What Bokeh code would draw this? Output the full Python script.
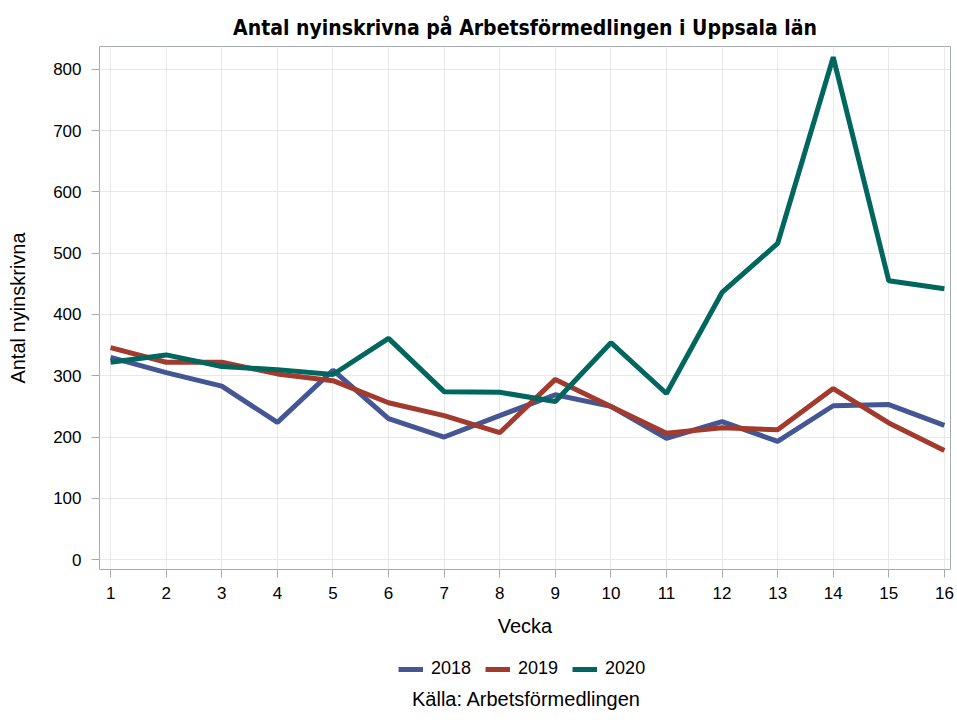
from bokeh.plotting import figure
from bokeh.models import Legend, LegendItem, Range1d, FixedTicker, ColumnDataSource, Label
from bokeh.layouts import column
from bokeh.embed import file_html
from bokeh.resources import INLINE

weeks = list(range(1, 17))
series_names = ["2018", "2019", "2020"]
v2018 = [330, 305, 283, 224, 309, 230, 200, 235, 269, 250, 198, 225, 193, 251, 253, 219]
v2019 = [346, 322, 322, 303, 292, 256, 235, 207, 294, 250, 206, 215, 212, 279, 223, 178]
v2020 = [322, 334, 315, 310, 302, 361, 274, 273, 258, 354, 271, 436, 516, 820, 455, 442]
y_ticks = [0, 100, 200, 300, 400, 500, 600, 700, 800]
colors = ["#445694", "#A23A2E", "#01665E"]
title_text = "Antal nyinskrivna på Arbetsförmedlingen i Uppsala län"
source_text = "Källa: Arbetsförmedlingen"

FONT = "Liberation Sans"
TFONT = "'DejaVu Sans Condensed', 'DejaVu Sans'"
FRAME = "#a5abb0"
W = 955
LEFT, RIGHT = 99, 5
H1, H2 = 650, 75

p = figure(width=W, height=H1, output_backend="svg", toolbar_location=None,
           x_range=Range1d(0.80, 16.11), y_range=Range1d(-16.3, 837.5),
           min_border_left=LEFT, min_border_right=RIGHT, min_border_top=46,
           min_border_bottom=81)

p.title.text = title_text
p.title.align = "center"
p.title.text_font = TFONT
p.title.text_font_size = "21px"
p.title.text_font_style = "bold"
p.title.text_color = "#000000"
p.title.standoff = 14

for name, vals, c in zip(series_names, [v2018, v2019, v2020], colors):
    src = ColumnDataSource(dict(x=weeks, y=vals))
    p.line("x", "y", source=src, line_color=c, line_width=5)

p.xaxis.ticker = FixedTicker(ticks=weeks)
p.yaxis.ticker = FixedTicker(ticks=y_ticks)
p.xaxis.axis_label = "Vecka"
p.yaxis.axis_label = "Antal nyinskrivna"
for ax in [p.xaxis[0], p.yaxis[0]]:
    ax.axis_label_text_font = FONT
    ax.axis_label_text_font_style = "normal"
    ax.axis_label_text_font_size = "20px"
    ax.axis_label_text_color = "#000000"
    ax.major_label_text_font = FONT
    ax.major_label_text_font_size = "17px"
    ax.major_label_text_color = "#000000"
    ax.axis_line_color = None
    ax.major_tick_line_color = FRAME
    ax.major_tick_line_width = 1
    ax.major_tick_out = 8
    ax.major_tick_in = 0
    ax.minor_tick_line_color = None
p.xaxis.major_label_standoff = 9
p.yaxis.major_label_standoff = 10
p.xaxis.axis_label_standoff = 13
p.yaxis.axis_label_standoff = 21

p.xgrid.grid_line_color = "#e8e8e8"
p.ygrid.grid_line_color = "#e8e8e8"
p.xgrid.ticker = FixedTicker(ticks=weeks)
p.ygrid.ticker = FixedTicker(ticks=y_ticks)
p.outline_line_color = FRAME
p.outline_line_width = 1

# legend + source panel (data coordinates equal page pixels)
q = figure(width=W, height=H2, output_backend="svg", toolbar_location=None,
           x_range=Range1d(LEFT, W - RIGHT), y_range=Range1d(H1 + H2, H1),
           min_border_left=LEFT, min_border_right=RIGHT, min_border_top=0,
           min_border_bottom=0, outline_line_color=None)
q.axis.visible = False
q.grid.visible = False
items = []
nan = float("nan")
for name, c in zip(series_names, colors):
    r = q.line(x=[nan], y=[nan], line_color=c, line_width=5)
    items.append(LegendItem(label=name, renderers=[r]))
legend = Legend(items=items, orientation="horizontal", location=(398 - LEFT, 46),
                label_text_font=FONT, label_text_font_size="18px",
                label_text_color="#000000",
                glyph_width=25, glyph_height=20, label_height=20, label_standoff=8,
                spacing=14, padding=0, margin=0, border_line_color=None,
                background_fill_alpha=0)
q.add_layout(legend, "center")
q.add_layout(Label(x=526, y=698, text=source_text, text_align="center",
                   text_baseline="middle", text_font=FONT, text_font_size="20px",
                   text_color="#000000"))

open("out.html", "w").write(file_html(column(p, q, spacing=0), INLINE))
